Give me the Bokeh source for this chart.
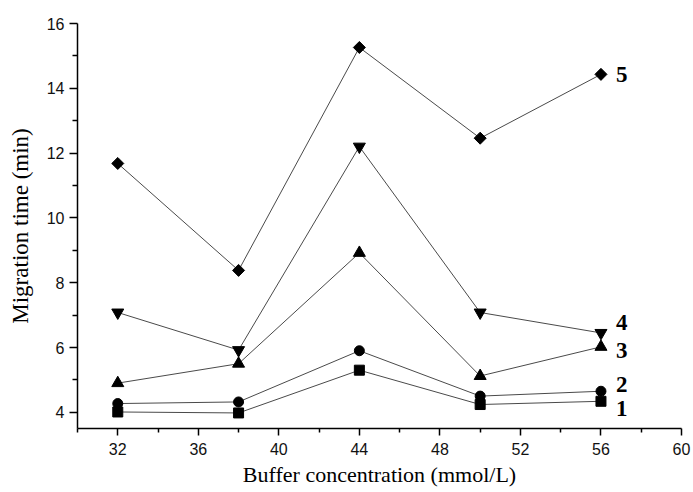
import math
from bokeh.plotting import figure
from bokeh.models import ColumnDataSource, FixedTicker, Range1d
from bokeh.core.properties import value
from bokeh.embed import file_html
from bokeh.resources import INLINE

# ---- data ----
concentration = [32, 38, 44, 50, 56]
series_1 = [4.01, 3.98, 5.30, 4.24, 4.34]
series_2 = [4.27, 4.32, 5.90, 4.50, 4.65]
series_3 = [4.90, 5.50, 8.92, 5.12, 6.02]
series_4 = [7.08, 5.92, 12.20, 7.08, 6.45]
series_5 = [11.68, 8.38, 15.26, 12.46, 14.43]
series_labels = ["1", "2", "3", "4", "5"]
x_ticks = [32, 36, 40, 44, 48, 52, 56, 60]
y_ticks = [4, 6, 8, 10, 12, 14, 16]

p = figure(width=693, height=492, output_backend="svg", toolbar_location=None,
           x_range=Range1d(30, 60), y_range=Range1d(3.5, 16),
           min_border_left=77, min_border_right=12, min_border_top=23, min_border_bottom=64)
p.outline_line_color = None
p.xgrid.visible = False
p.ygrid.visible = False
p.background_fill_color = "white"
p.border_fill_color = "white"

line_color = "#4a4a4a"
series = [series_1, series_2, series_3, series_4, series_5]
markers = [("square", 10, 0), ("circle", 10, 0), ("triangle", 12, 0),
           ("inverted_triangle", 12, 0), ("square", 8.5, math.pi / 4)]
for ys, (mk, sz, ang) in zip(series, markers):
    src = ColumnDataSource(dict(x=concentration, y=ys))
    p.line("x", "y", source=src, line_color=line_color, line_width=1)
    p.scatter("x", "y", source=src, marker=mk, size=sz, angle=ang,
              fill_color="black", line_color="black")

# end labels
label_dy = [7, -6.5, 3.5, -10, 0]
lab_src = ColumnDataSource(dict(
    x=[concentration[-1]] * len(series),
    y=[s[-1] for s in series],
    t=series_labels,
    dy=label_dy,
))
p.text("x", "y", text="t", source=lab_src, x_offset=15, y_offset="dy",
       text_font=value("Liberation Serif"), text_font_style="bold",
       text_font_size="23px", text_baseline="middle", text_align="left",
       text_color="black")

# axes
for ax in (p.xaxis[0], p.yaxis[0]):
    ax.axis_line_color = "black"
    ax.axis_line_width = 1.5
    ax.major_tick_line_color = "black"
    ax.major_tick_line_width = 1.5
    ax.minor_tick_line_color = "black"
    ax.minor_tick_line_width = 1.5
    ax.major_tick_in = 0
    ax.minor_tick_in = 0
    ax.major_label_text_font = "Liberation Sans"
    ax.major_label_text_font_size = "16px"
    ax.major_label_text_color = "#111111"
    ax.axis_label_text_font = "Liberation Serif"
    ax.axis_label_text_font_style = "normal"
    ax.axis_label_text_color = "black"

p.xaxis.axis_label_text_font_size = "22px"
p.yaxis.axis_label_text_font_size = "23px"
p.xaxis.ticker = FixedTicker(ticks=x_ticks, minor_ticks=[30, 34, 38, 42, 46, 50, 54, 58])
p.yaxis.ticker = FixedTicker(ticks=y_ticks, minor_ticks=[5, 7, 9, 11, 13, 15])
p.xaxis.major_tick_out = 7
p.xaxis.minor_tick_out = 4
p.yaxis.major_tick_out = 8
p.yaxis.minor_tick_out = 5
p.xaxis.major_label_standoff = 7
p.yaxis.major_label_standoff = 5
p.xaxis.axis_label = "Buffer concentration (mmol/L)"
p.yaxis.axis_label = "Migration time (min)"
p.xaxis.axis_label_standoff = 4
p.yaxis.axis_label_standoff = 11

open("out.html", "w").write(file_html(p, INLINE))
